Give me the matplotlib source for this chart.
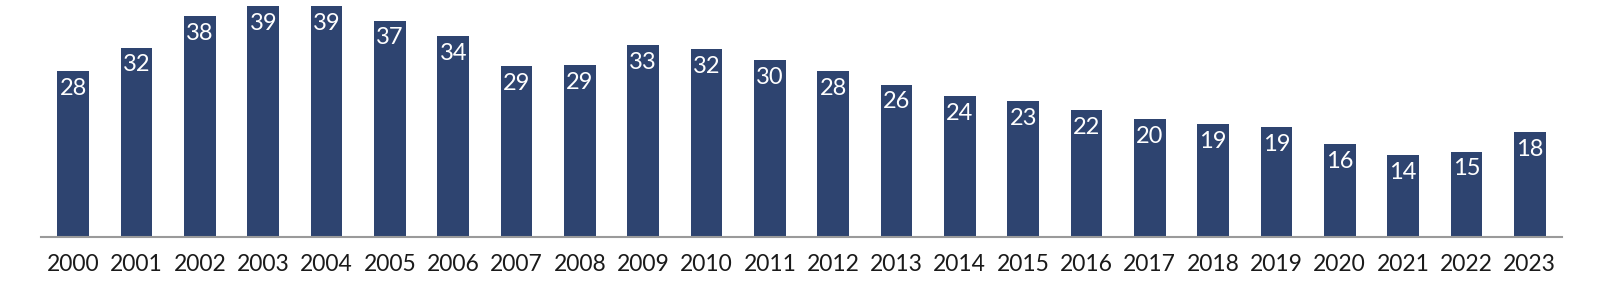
import matplotlib
matplotlib.use("Agg")
import matplotlib.pyplot as plt

years = [str(y) for y in range(2000, 2024)]
values = [28.3, 32.3, 37.6, 39.4, 39.3, 36.9, 34.2, 29.2, 29.3, 32.8, 32.1, 30.1,
          28.3, 26.0, 24.1, 23.2, 21.6, 20.1, 19.3, 18.8, 15.9, 14.0, 14.6, 17.9]

plt.rcParams['font.family'] = ['Lato', 'DejaVu Sans']

fig = plt.figure(figsize=(16, 2.98), dpi=100)
ax = fig.add_axes([41/1600, (298-237.3)/298, (1562-41)/1600, 237.3/298])

x = range(len(years))
bars = ax.bar(x, values, width=0.5, color='#2E4470', zorder=2)
for xi, v in zip(x, values):
    ax.annotate(f"{v:.0f}", xy=(xi, v), xytext=(0, -5), textcoords='offset points',
                ha='center', va='top', color='white', fontsize=17)

ax.set_xlim(-0.51, 23.51)
ax.set_ylim(0, 237.3/5.875)
ax.set_xticks(list(x))
ax.set_xticklabels(years, fontsize=16.5, color='#1a1a1a')
ax.tick_params(axis='x', length=0, pad=12)
ax.set_yticks([])
for s in ['top', 'right', 'left']:
    ax.spines[s].set_visible(False)
ax.spines['bottom'].set_color('#9a9a9a')
ax.spines['bottom'].set_linewidth(1.5)
ax.spines['bottom'].set_zorder(3)

fig.savefig('out.png', dpi=100, facecolor='white')
